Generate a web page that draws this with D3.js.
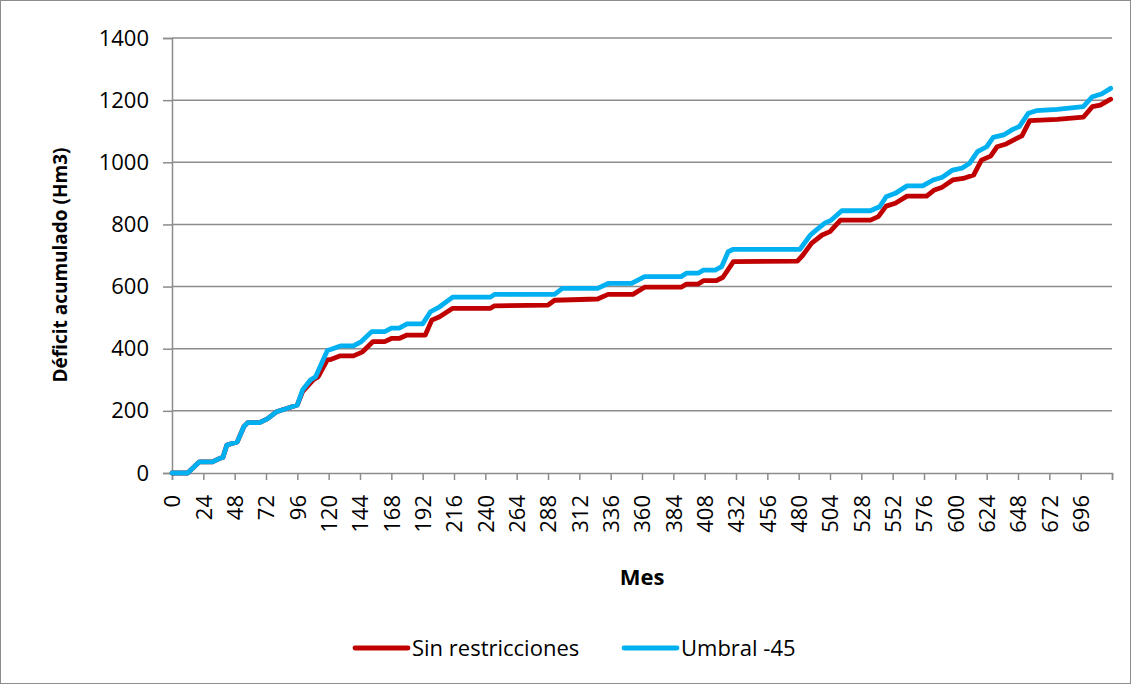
<!DOCTYPE html>
<html>
<head>
<meta charset="utf-8">
<script src="https://cdn.jsdelivr.net/npm/d3@7"></script>
<style>
  html, body { margin: 0; padding: 0; background: #fff; }
  svg { display: block; }
  text { font-family: "Open Sans", "Noto Sans", sans-serif; fill: #000; }
</style>
</head>
<body>
<svg id="chart" width="1131" height="684"></svg>
<script>
// ---- Data (vertices: [mes, déficit acumulado Hm3]) ----
const seriesNames = ["Sin restricciones", "Umbral -45"];
const seriesColors = ["#C00000", "#00B0F0"];

const sinRestricciones = [
  [0,0],[12,0],[21,36],[31,36],[37,48],[39,50],[42,90],[50,100],[55,149],[58,162],[67,162],
  [73,174],[80,197],[89,209],[96,219],[100,262],[108,299],[112,310],[119,364],[122,366],
  [129,377],[139,377],[146,390],[154,423],[163,423],[168,433],[174,433],[180,444],[194,444],
  [199,492],[205,503],[215,530],[244,530],[247,538],[288,540],[293,556],[326,560],[334,575],
  [353,575],[362,598],[390,598],[394,608],[403,608],[407,619],[417,619],[422,630],[430,680],
  [479,682],[483,700],[490,740],[498,766],[504,777],[512,814],[535,814],[541,825],[547,859],
  [554,868],[563,891],[578,891],[584,911],[590,920],[598,943],[606,948],[614,959],[620,1007],
  [627,1020],[632,1050],[639,1059],[647,1077],[651,1085],[657,1134],[678,1138],[698,1145],
  [705,1179],[711,1184],[719,1203]
];

const umbral45 = [
  [0,0],[12,0],[21,36],[31,36],[37,48],[39,50],[42,90],[50,100],[55,149],[58,162],[67,162],
  [73,174],[80,197],[89,209],[96,219],[100,267],[106,299],[110,310],[119,394],[122,398],
  [129,409],[139,409],[145,423],[153,455],[163,455],[168,466],[174,466],[180,480],[192,480],
  [198,519],[205,535],[215,566],[244,566],[247,575],[293,575],[299,594],[326,594],[334,610],
  [352,610],[362,632],[390,632],[394,643],[403,643],[407,653],[416,653],[421,664],[426,712],
  [430,720],[481,720],[489,766],[492,777],[500,804],[505,814],[513,844],[535,844],[542,857],
  [547,889],[554,900],[563,924],[575,924],[583,943],[590,952],[598,975],[605,981],[611,997],
  [617,1034],[624,1050],[629,1080],[637,1088],[644,1106],[649,1115],[656,1158],[662,1166],
  [678,1170],[698,1179],[705,1211],[712,1220],[719,1238]
];

const xTickValues = d3.range(0, 721, 24);          // tick marks every 24 months
const xTickLabels = d3.range(0, 697, 24);          // labelled 0 … 696
const yTickValues = [0, 200, 400, 600, 800, 1000, 1200, 1400];

const xTitle = "Mes";
const yTitle = "Déficit acumulado (Hm3)";

// ---- Layout ----
const svg = d3.select("#chart");
const W = 1131, H = 684;
const plot = { left: 172, right: 1112, top: 38, bottom: 473 };

const x = d3.scaleLinear().domain([0, 720]).range([plot.left, plot.right]);
const y = d3.scaleLinear().domain([0, 1400]).range([plot.bottom, plot.top]);

const gridColor = "#8c8c8c";

// outer chart border
svg.append("rect")
  .attr("x", 0.5).attr("y", 0.5).attr("width", W - 1).attr("height", H - 1)
  .attr("fill", "#fff").attr("stroke", "#8c8c8c").attr("stroke-width", 1);

// horizontal gridlines
svg.append("g")
  .selectAll("line")
  .data(yTickValues.filter(d => d > 0))
  .join("line")
  .attr("x1", plot.left).attr("x2", plot.right)
  .attr("y1", d => y(d)).attr("y2", d => y(d))
  .attr("stroke", gridColor).attr("stroke-width", 1.5);

// Y axis
const yAxis = svg.append("g")
  .attr("transform", `translate(${plot.left},0)`)
  .call(d3.axisLeft(y).tickValues(yTickValues).tickSize(9).tickPadding(14).tickFormat(d3.format("d")));
yAxis.select(".domain").attr("stroke", gridColor).attr("stroke-width", 1.5);
yAxis.selectAll(".tick line").attr("stroke", gridColor).attr("stroke-width", 1.5);
yAxis.selectAll("text")
  .style("font-family", '"Open Sans", sans-serif')
  .style("font-size", "22px").attr("fill", "#000");

// X axis
const xAxis = svg.append("g")
  .attr("transform", `translate(0,${plot.bottom})`)
  .call(d3.axisBottom(x).tickValues(xTickValues).tickSize(7)
    .tickFormat(d => xTickLabels.includes(d) ? String(d) : ""));
xAxis.select(".domain").attr("stroke", gridColor).attr("stroke-width", 1.5);
xAxis.selectAll(".tick line").attr("stroke", gridColor).attr("stroke-width", 1.5);
xAxis.selectAll("text")
  .style("font-family", '"Open Sans", sans-serif')
  .style("font-size", "22px").attr("fill", "#000")
  .attr("transform", "rotate(-90)")
  .attr("x", -22).attr("y", 0).attr("dy", "0.35em")
  .attr("text-anchor", "end");

// lines
const line = d3.line().x(d => x(d[0])).y(d => y(d[1]));
[sinRestricciones, umbral45].forEach((data, i) => {
  svg.append("path")
    .datum(data)
    .attr("d", line)
    .attr("fill", "none")
    .attr("stroke", seriesColors[i])
    .attr("stroke-width", 4.8)
    .attr("stroke-linejoin", "round")
    .attr("stroke-linecap", "round");
});

// axis titles
svg.append("text")
  .attr("x", (plot.left + plot.right) / 2).attr("y", 585)
  .attr("text-anchor", "middle")
  .style("font-size", "22px").style("font-weight", "bold")
  .text(xTitle);

svg.append("text")
  .attr("transform", `translate(60,265) rotate(-90)`)
  .attr("text-anchor", "middle").attr("dy", "0.35em")
  .style("font-size", "19px").style("font-weight", "bold")
  .text(yTitle);

// legend
const legendItems = [
  { name: seriesNames[0], color: seriesColors[0], x: 355 },
  { name: seriesNames[1], color: seriesColors[1], x: 624 }
];
const lg = svg.append("g");
legendItems.forEach(it => {
  lg.append("line")
    .attr("x1", it.x).attr("x2", it.x + 53)
    .attr("y1", 648).attr("y2", 648)
    .attr("stroke", it.color).attr("stroke-width", 4.8)
    .attr("stroke-linecap", "round");
  lg.append("text")
    .attr("x", it.x + 57).attr("y", 648).attr("dy", "0.35em")
    .style("font-size", "22px")
    .text(it.name);
});
</script>
</body>
</html>
